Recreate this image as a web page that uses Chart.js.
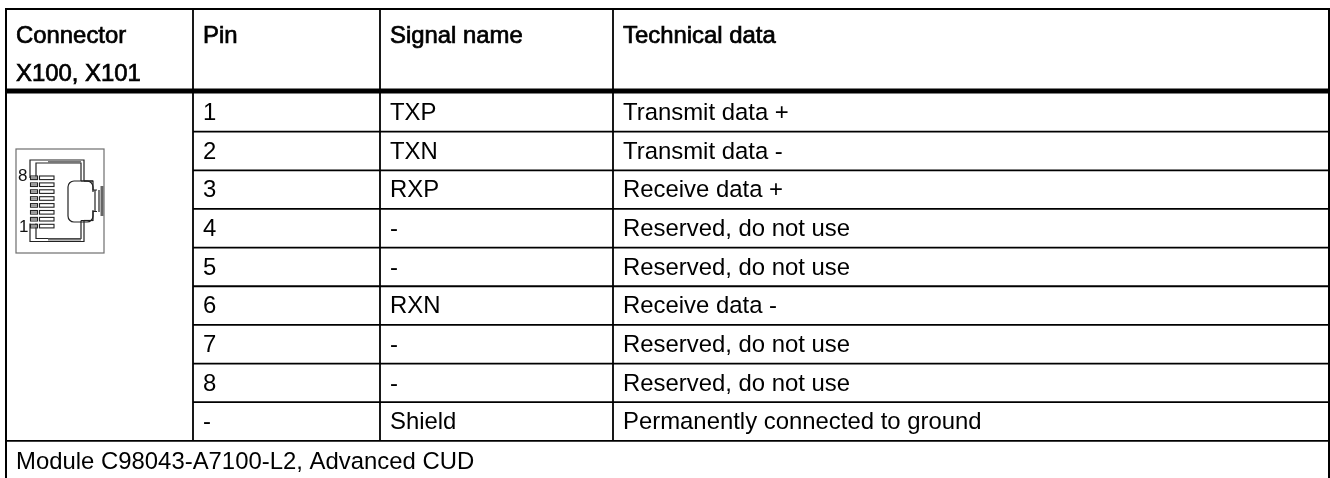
<!DOCTYPE html>
<html>
<head>
<meta charset="utf-8">
<style>
  html, body { margin: 0; padding: 0; background: #fff; }
  canvas { display: block; }
</style>
<script src="https://cdn.jsdelivr.net/npm/chart.js@4"></script>
</head>
<body>
<canvas id="pinChart" width="1330" height="478"></canvas>
<script>
// Table content
var connectorHeader = ['Connector', 'X100, X101'];
var pins = ['1', '2', '3', '4', '5', '6', '7', '8', '-'];
var signals = ['TXP', 'TXN', 'RXP', '-', '-', 'RXN', '-', '-', 'Shield'];
var technical = [
    'Transmit data +',
    'Transmit data -',
    'Receive data +',
    'Reserved, do not use',
    'Reserved, do not use',
    'Receive data -',
    'Reserved, do not use',
    'Reserved, do not use',
    'Permanently connected to ground'
];
var footer = ['Module C98043-A7100-L2, Advanced CUD'];
var rowIndex = [0, 1, 2, 3, 4, 5, 6, 7, 8];

// x axis runs in picture pixels, y axis in table rows
var colEdges = [6, 193, 380, 613, 1329];
var textInset = 10;
var rowPx = 38.65;
var row0Px = 112.3;
var font = '23.9px "Liberation Sans", Arial, sans-serif';

function textSet(labels, x, ys, bold) {
    return {
        type: 'scatter',
        labels2: labels,
        bold: bold,
        data: labels.map(function (l, i) { return { x: x, y: ys[i] }; }),
        pointRadius: 0
    };
}

function rule(x0, y0, x1, y1, width) {
    return {
        type: 'line',
        data: [{ x: x0, y: y0 }, { x: x1, y: y1 }],
        borderColor: '#000',
        borderWidth: width,
        pointRadius: 0,
        borderCapStyle: 'butt'
    };
}

// Connector drawing, handed to Chart.js as a point style
function connectorIcon() {
    var c = document.createElement('canvas');
    c.width = 90;
    c.height = 106;
    var g = c.getContext('2d');
    function path(color, w, pts) {
        g.strokeStyle = color;
        g.lineWidth = w;
        g.beginPath();
        pts.forEach(function (p, i) {
            if (i) g.lineTo(p[0], p[1]); else g.moveTo(p[0], p[1]);
        });
        g.stroke();
    }
    // frame
    g.strokeStyle = '#6e6e6e';
    g.lineWidth = 1.2;
    g.strokeRect(1, 1, 88, 104);
    var dark = '#222';
    // shell, top half mirrored to the bottom
    var H = 106;
    [false, true].forEach(function (flip) {
        function f(y) { return flip ? H - y - 0.5 : y; }
        path(dark, 1.2, [[15, f(30)], [15, f(12)], [69, f(12)], [69, f(33)]]);
        path(dark, 1.2, [[21, f(30)], [21, f(15)], [66, f(15)], [66, f(33)]]);
        path('#777', 2, [[33, f(14)], [66, f(14)]]);
        path(dark, 1.2, [[66, f(33)], [78, f(33)], [78, f(42)], [82, f(42)]]);
        path(dark, 1.2, [[69, f(33)], [78, f(33)]]);
    });
    // latch body
    g.strokeStyle = dark;
    g.lineWidth = 1.2;
    g.beginPath();
    g.roundRect(53, 33, 25, 41, 6);
    g.stroke();
    g.fillStyle = '#fff';
    g.fillRect(72, 44, 8, 18);
    path(dark, 1.2, [[80, 42], [80, 64]]);
    path(dark, 1.2, [[84, 42], [84, 64]]);
    path('#666', 3, [[87, 38], [87, 68]]);
    // eight contacts
    for (var i = 0; i < 8; i++) {
        var y = 28 + i * 6.9;
        g.strokeStyle = dark;
        g.lineWidth = 1.1;
        g.strokeRect(15.5, y, 7, 3.6);
        g.strokeRect(24.5, y, 14.5, 3.6);
        g.fillStyle = '#999';
        g.fillRect(16, y + 0.6, 6, 2.4);
    }
    g.fillStyle = '#111';
    g.font = '17px "Liberation Sans", Arial, sans-serif';
    g.textBaseline = 'middle';
    g.fillText('8', 3, 28);
    g.fillText('1', 4, 79);
    return c;
}

var textPlugin = {
    id: 'cellText',
    afterDatasetsDraw: function (chart) {
        var ctx = chart.ctx;
        ctx.save();
        ctx.font = font;
        ctx.fillStyle = '#000';
        ctx.strokeStyle = '#000';
        ctx.textBaseline = 'middle';
        chart.data.datasets.forEach(function (ds, n) {
            if (!ds.labels2) return;
            chart.getDatasetMeta(n).data.forEach(function (pt, i) {
                ctx.fillText(ds.labels2[i], pt.x, pt.y + 1.2);
                if (ds.bold) {
                    ctx.lineWidth = 0.7;
                    ctx.strokeText(ds.labels2[i], pt.x, pt.y + 1.2);
                }
            });
        });
        ctx.restore();
    }
};

var datasets = [];
var tableBottom = (478 - row0Px) / rowPx;
var tableTop = -row0Px / rowPx;

// horizontal rules
datasets.push(rule(5, tableTop + 9 / rowPx, 1330, tableTop + 9 / rowPx, 2.2));
datasets.push(rule(5, -0.55, 1330, -0.55, 5));
rowIndex.forEach(function (r) {
    var left = r === 8 ? colEdges[0] : colEdges[1];
    datasets.push(rule(left, r + 0.5, 1330, r + 0.5, 1.8));
});
// vertical rules
colEdges.forEach(function (x, i) {
    var outer = i === 0 || i === colEdges.length - 1;
    datasets.push(rule(x, tableTop + 8 / rowPx, x, outer ? tableBottom : 8.5, outer ? 2 : 1.8));
});

// cell text
var textX = colEdges.map(function (x) { return x + textInset; });
datasets.push(textSet(connectorHeader, textX[0], [-2, -1], true));
datasets.push(textSet(['Pin'], textX[1], [-2], true));
datasets.push(textSet(['Signal name'], textX[2], [-2], true));
datasets.push(textSet(['Technical data'], textX[3], [-2], true));
datasets.push(textSet(pins, textX[1], rowIndex, false));
datasets.push(textSet(signals, textX[2], rowIndex, false));
datasets.push(textSet(technical, textX[3], rowIndex, false));
datasets.push(textSet(footer, textX[0], [9.02], false));

// connector picture sits in the first cell
datasets.push({
    type: 'scatter',
    data: [{ x: 60, y: 2.295 }],
    pointStyle: connectorIcon(),
    pointRadius: 10
});

var ctx = document.getElementById('pinChart').getContext('2d');
var pinChart = new Chart(ctx, {
    type: 'scatter',
    data: { datasets: datasets },
    options: {
        responsive: false,
        animation: false,
        layout: { padding: 0, autoPadding: false },
        plugins: { legend: { display: false }, tooltip: { enabled: false } },
        scales: {
            x: { type: 'linear', display: false, min: 0, max: 1330 },
            y: { type: 'linear', display: false, reverse: true, min: tableTop, max: tableBottom }
        }
    },
    plugins: [textPlugin]
});
</script>
</body>
</html>
